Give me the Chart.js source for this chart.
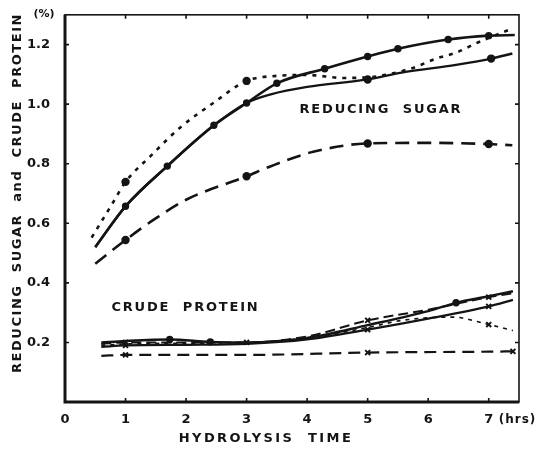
<!DOCTYPE html>
<html>
<head>
<meta charset="utf-8">
<script src="https://cdn.jsdelivr.net/npm/chart.js@4/dist/chart.umd.min.js"></script>
<style>
  html, body { margin: 0; padding: 0; background: #fff; }
  #wrap { width: 551px; height: 454px; }
</style>
</head>
<body>
<div id="wrap"><canvas id="myChart"></canvas></div>
<script>
// tick values
var xTicks = [0, 1, 2, 3, 4, 5, 6, 7];
var yTicks = [0, 0.2, 0.4, 0.6, 0.8, 1.0, 1.2];

// reducing sugar curves [hrs, %]
var sugarUpper = [[0.5,0.52],[1,0.657],[1.69,0.792],[2.46,0.929],[3,1.004],[3.5,1.07],[4.29,1.119],[5,1.16],[5.5,1.186],[6.33,1.217],[7,1.23],[7.43,1.232]];
var sugarLower = [[0.5,0.52],[1,0.657],[1.69,0.792],[2.46,0.929],[3,1.004],[3.4,1.033],[4,1.058],[5,1.083],[5.56,1.106],[6.46,1.132],[7.04,1.153],[7.39,1.17]];
var sugarDotted = [[0.44,0.552],[0.77,0.662],[1,0.739],[1.42,0.827],[1.9,0.921],[2.45,1.004],[3,1.078],[3.5,1.095],[4,1.098],[4.6,1.088],[5,1.09],[5.72,1.12],[6.13,1.153],[6.46,1.173],[6.82,1.207],[7.34,1.25]];
var sugarDashed = [[0.5,0.464],[1,0.544],[1.51,0.618],[2,0.679],[3,0.758],[3.38,0.79],[4.1,0.84],[5,0.868],[6,0.87],[7,0.866],[7.39,0.862]];

// crude protein curves [hrs, %]
var proteinSolid = [[0.6,0.2],[1,0.205],[1.73,0.21],[2.4,0.202],[3,0.2],[4,0.215],[5,0.258],[6,0.305],[6.46,0.333],[7,0.355],[7.4,0.372]];
var proteinDash = [[0.6,0.195],[1,0.2],[2,0.2],[3,0.2],[4,0.22],[5,0.274],[6,0.31],[7,0.352],[7.4,0.365]];
var proteinSolid2 = [[0.6,0.185],[1,0.19],[2,0.192],[3,0.195],[4,0.21],[5,0.243],[6,0.28],[7,0.321],[7.4,0.343]];
var proteinDotted = [[0.6,0.19],[1,0.195],[3,0.2],[4,0.215],[5,0.25],[5.6,0.275],[6.4,0.285],[7,0.26],[7.4,0.24]];
var proteinLong = [[0.6,0.155],[1,0.158],[3,0.158],[5,0.166],[7,0.169],[7.4,0.17]];

var INK = '#141414';
var FONT = 'bold 13px "DejaVu Sans", sans-serif';

function pts(arr) {
    return arr.map(function (p) { return {x: p[0], y: p[1]}; });
}

function series(arr, dash, width, marks, style, size) {
    return {
        data: pts(arr),
        borderColor: INK,
        backgroundColor: INK,
        borderWidth: width,
        borderDash: dash,
        cubicInterpolationMode: 'monotone',
        pointStyle: style || 'circle',
        pointBorderWidth: 2,
        pointRadius: function (ctx) {
            return marks.indexOf(ctx.dataIndex) >= 0 ? (size || 3.2) : 0;
        }
    };
}

var framePlugin = {
    id: 'frame',
    afterDraw: function (chart) {
        var ctx = chart.ctx, a = chart.chartArea;
        var xs = chart.scales.x, ys = chart.scales.y;
        ctx.save();
        ctx.strokeStyle = INK;
        ctx.lineWidth = 1.6;
        ctx.strokeRect(a.left, a.top, a.right - a.left, a.bottom - a.top);
        ctx.lineWidth = 3;
        ctx.beginPath();
        ctx.moveTo(a.left, a.top);
        ctx.lineTo(a.left, a.bottom);
        ctx.lineTo(a.right, a.bottom);
        ctx.stroke();

        // inward ticks
        ctx.lineWidth = 1.6;
        ctx.beginPath();
        xTicks.forEach(function (v) {
            if (v === 0) return;
            var px = xs.getPixelForValue(v);
            ctx.moveTo(px, a.bottom); ctx.lineTo(px, a.bottom - 4);
            ctx.moveTo(px, a.top); ctx.lineTo(px, a.top + 4);
        });
        yTicks.forEach(function (v) {
            if (v === 0) return;
            var py = ys.getPixelForValue(v);
            ctx.moveTo(a.left, py); ctx.lineTo(a.left + 4, py);
            ctx.moveTo(a.right, py); ctx.lineTo(a.right - 4, py);
        });
        ctx.stroke();

        ctx.fillStyle = INK;
        ctx.textBaseline = 'middle';

        // unit marks
        ctx.font = 'bold 11px "DejaVu Sans", sans-serif';
        ctx.textAlign = 'center';
        ctx.fillText('(%)', 44, 14);
        ctx.textAlign = 'left';
        ctx.font = 'bold 12px "DejaVu Sans", sans-serif';
        ctx.letterSpacing = '1px';
        ctx.fillText('(hrs)', xs.getPixelForValue(7) + 10, 420);

        // titles
        ctx.font = FONT;
        ctx.textAlign = 'center';
        ctx.letterSpacing = '2.4px';
        ctx.fillText('HYDROLYSIS  TIME', 266, 439);
        ctx.letterSpacing = '1.8px';
        ctx.fillText('REDUCING  SUGAR', xs.getPixelForValue(5.22), ys.getPixelForValue(0.98));
        ctx.fillText('CRUDE  PROTEIN', xs.getPixelForValue(1.99), ys.getPixelForValue(0.317));

        ctx.save();
        ctx.translate(18, 193);
        ctx.rotate(-Math.PI / 2);
        ctx.letterSpacing = '1.55px';
        ctx.fillText('REDUCING  SUGAR  and  CRUDE  PROTEIN', 0, 0);
        ctx.restore();

        ctx.restore();
    }
};

var cfg = {
    type: 'line',
    data: {
        datasets: [
            series(sugarUpper, [], 2.6, [1, 2, 3, 4, 5, 6, 7, 8, 9, 10], 'circle', 2.7),
            series(sugarLower, [], 2.4, [7, 10]),
            series(sugarDotted, [4, 6], 2.6, [2, 6]),
            series(sugarDashed, [14, 8], 2.6, [1, 4, 7, 9]),
            series(proteinSolid, [], 2.4, [2, 3, 8], 'circle', 2.7),
            series(proteinDash, [10, 5], 2, [1, 3, 5, 7], 'crossRot', 3.5),
            series(proteinSolid2, [], 2.2, [1, 5, 7], 'crossRot', 3.5),
            series(proteinDotted, [4, 5], 1.6, [7], 'crossRot', 3.5),
            series(proteinLong, [12, 7], 2.2, [1, 3, 5, 7], 'crossRot', 3.5)
        ]
    },
    options: {
        animation: false,
        responsive: true,
        maintainAspectRatio: false,
        layout: { padding: { top: 7, right: 32, left: 0, bottom: 0 } },
        plugins: { legend: { display: false }, tooltip: { enabled: false } },
        scales: {
            x: {
                type: 'linear',
                min: 0,
                max: 7.5,
                grid: { display: false },
                border: { display: false },
                afterFit: function (s) { s.height = 52; },
                afterBuildTicks: function (s) {
                    s.ticks = xTicks.map(function (v) { return {value: v}; });
                },
                ticks: {
                    padding: 2,
                    color: INK,
                    font: { family: '"DejaVu Sans", sans-serif', size: 13, weight: 'bold' },
                    callback: function (v) { return String(v); }
                }
            },
            y: {
                type: 'linear',
                min: 0,
                max: 1.3,
                grid: { display: false },
                border: { display: false },
                afterFit: function (s) { s.width = 65; },
                afterBuildTicks: function (s) {
                    s.ticks = yTicks.map(function (v) { return {value: v}; });
                },
                ticks: {
                    padding: 7,
                    color: INK,
                    font: { family: '"DejaVu Sans", sans-serif', size: 13, weight: 'bold' },
                    callback: function (v) { return v === 0 ? '' : v.toFixed(1); }
                }
            }
        }
    },
    plugins: [framePlugin]
};

var myChart = new Chart(document.getElementById('myChart').getContext('2d'), cfg);
</script>
</body>
</html>
